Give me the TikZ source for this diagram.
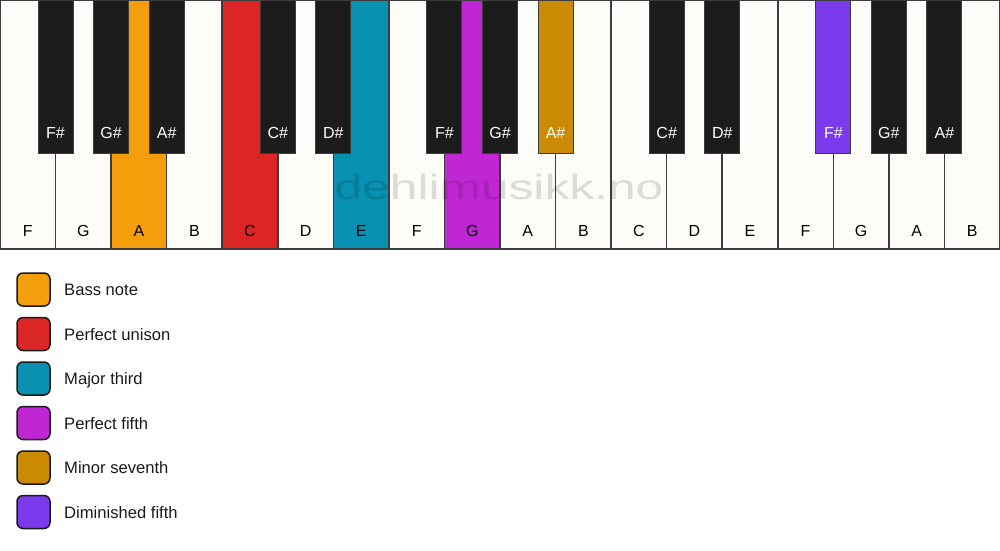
\documentclass[tikz,border=0pt]{standalone}
\usepackage{fontspec}
\setmainfont{Liberation Sans}
\definecolor{keyfill}{HTML}{FEFCF8}
\definecolor{blackkey}{HTML}{1C1C1C}
\definecolor{edge}{HTML}{3C3C3C}
\definecolor{bass}{HTML}{F59E0B}
\definecolor{unison}{HTML}{DC2626}
\definecolor{third}{HTML}{0891B2}
\definecolor{fifth}{HTML}{C026D3}
\definecolor{seventh}{HTML}{CA8A04}
\definecolor{dimfifth}{HTML}{7C3AED}
\definecolor{legtextcol}{HTML}{1A1A1A}
\begin{document}
\begin{tikzpicture}[x=1pt,y=-1pt,
  whitekey/.style={draw=edge, line width=1.5pt, minimum width=55.5556pt, minimum height=249pt, anchor=north west, inner sep=0pt, outer sep=0pt},
  blackkeybox/.style={draw=edge, line width=1pt, minimum width=35pt, minimum height=153pt, anchor=north, inner sep=0pt, outer sep=0pt},
  wlabel/.style={anchor=base, inner sep=0pt, font=\fontsize{16}{19}\selectfont, text=black},
  blabel/.style={anchor=base, inner sep=0pt, font=\fontsize{16}{19}\selectfont, text=white},
  legbox/.style={draw=legtextcol, line width=1.5pt, rounded corners=6pt, minimum width=33pt, minimum height=33pt, inner sep=0pt},
  legtext/.style={anchor=base west, inner sep=0pt, font=\fontsize{16.6}{19}\selectfont, text=legtextcol},
  watermark/.style={anchor=base, inner sep=0pt, font=\fontsize{35}{40}\selectfont, text=black, text opacity=0.13, xscale=1.42}
]
\useasboundingbox[fill=white] (0,0) rectangle (1000,550);
% white keys
\foreach \n/\c [count=\i from 0] in {F/keyfill,G/keyfill,A/bass,B/keyfill,C/unison,D/keyfill,E/third,F/keyfill,G/fifth,A/keyfill,B/keyfill,C/keyfill,D/keyfill,E/keyfill,F/keyfill,G/keyfill,A/keyfill,B/keyfill}{
  \node[whitekey, fill=\c] (w\i) at ({\i*55.5556},0) {};
  \node[wlabel] (wl\i) at ({(\i+0.5)*55.5556},236) {\n};
}
% watermark
\node[watermark] (wm) at (499,199) {dehlimusikk.no};
% black keys
\foreach \n/\b/\c in {F\#/1/blackkey,G\#/2/blackkey,A\#/3/blackkey,C\#/5/blackkey,D\#/6/blackkey,F\#/8/blackkey,G\#/9/blackkey,A\#/10/seventh,C\#/12/blackkey,D\#/13/blackkey,F\#/15/dimfifth,G\#/16/blackkey,A\#/17/blackkey}{
  \node[blackkeybox, fill=\c] (b\b) at ({\b*55.5556},0) {};
  \node[blabel] (bl\b) at ({\b*55.5556},138) {\n};
}
% legend
\foreach \t/\c [count=\k from 0] in {Bass note/bass,Perfect unison/unison,Major third/third,Perfect fifth/fifth,Minor seventh/seventh,Diminished fifth/dimfifth}{
  \node[legbox, fill=\c] (lb\k) at (33.5,{289.5+\k*44.5}) {};
  \node[legtext] (lt\k) at (64,{295.5+\k*44.5}) {\t};
}
\end{tikzpicture}
\end{document}
